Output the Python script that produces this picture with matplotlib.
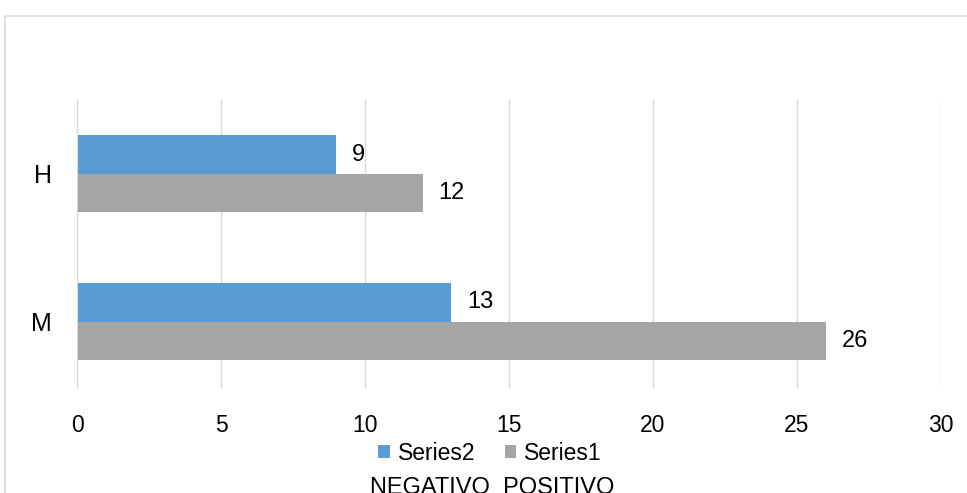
import matplotlib.pyplot as plt
import matplotlib.patches as mpatches
import numpy as np

plt.rcParams['font.family'] = ['Liberation Sans', 'DejaVu Sans']

categories = ['M', 'H']
series1 = [26, 12]
series2 = [13, 9]
xticks = [0, 5, 10, 15, 20, 25, 30]

blue = '#5B9BD5'
gray = '#A5A5A5'
grid = '#D9D9D9'

fig = plt.figure(figsize=(9.67, 4.93), dpi=100)
ax = fig.add_axes([77 / 967, 1 - 388 / 493, (941 - 77) / 967, (388 - 100) / 493])

y = np.arange(len(categories))
h = 0.26
b2 = ax.barh(y + h / 2, series2, height=h, color=blue, label='Series2', zorder=3)
b1 = ax.barh(y - h / 2, series1, height=h, color=gray, label='Series1', zorder=3)

for bars in (b2, b1):
    for r in bars:
        ax.text(r.get_width() + 0.55, r.get_y() + r.get_height() / 2, f'{r.get_width():g}',
                va='center', ha='left', fontsize=17)

ax.set_xlim(0, 30)
ax.set_ylim(-0.45, 1.5)
ax.set_xticks(xticks)
ax.set_yticks(y)
ax.set_yticklabels(categories)
ax.tick_params(axis='x', length=0, labelsize=16.5, pad=19)
ax.tick_params(axis='y', length=0, labelsize=18, pad=18)
ax.grid(axis='x', color=grid, linewidth=1, zorder=0)
for s in ['top', 'right', 'bottom']:
    ax.spines[s].set_visible(False)
ax.spines['left'].set_color(grid)
ax.spines['left'].set_zorder(4)

fig.legend(handles=[b2, b1], loc='center', bbox_to_anchor=(490 / 967, 1 - 453 / 493),
           ncol=2, frameon=False, fontsize=16.5, handlelength=0.5, handleheight=0.5,
           handletextpad=0.35, columnspacing=1.3, borderpad=0)

fig.text(492 / 967, 1 - 477 / 493, 'NEGATIVO  POSITIVO', ha='center', va='top', fontsize=17)

border = mpatches.Rectangle((5 / 967, -0.1), 1.1, 1 - 16 / 493 + 0.1, transform=fig.transFigure,
                            fill=False, edgecolor=grid, linewidth=1.2)
fig.patches.append(border)

fig.savefig('out.png', dpi=100)
